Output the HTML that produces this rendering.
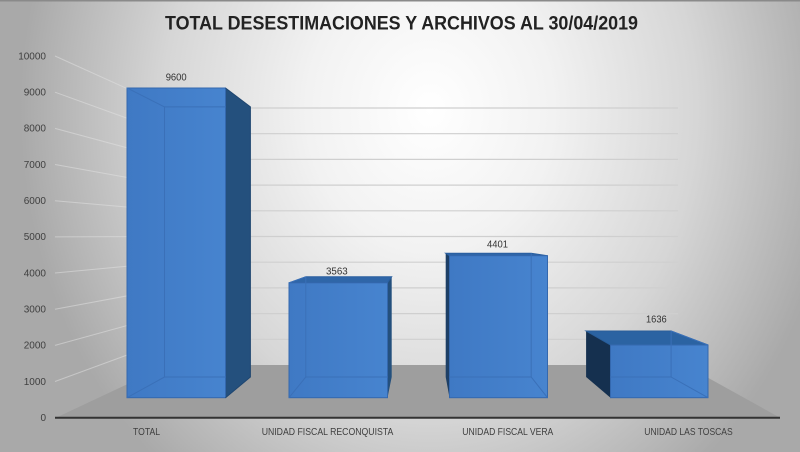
<!DOCTYPE html>
<html>
<head>
<meta charset="utf-8">
<style>
html,body{margin:0;padding:0;width:800px;height:452px;overflow:hidden;background:#c8c8c8;}
svg{display:block;}
text{font-family:"Liberation Sans",Arial,sans-serif;}
</style>
</head>
<body>
<svg width="800" height="452" viewBox="0 0 800 452" xmlns="http://www.w3.org/2000/svg">
<defs>
<radialGradient id="bg" gradientUnits="userSpaceOnUse" cx="0" cy="0" r="1" gradientTransform="translate(430,110) scale(410,470)">
<stop offset="0" stop-color="#ffffff"/>
<stop offset="0.3" stop-color="#f2f2f2"/>
<stop offset="0.65" stop-color="#d6d6d6"/>
<stop offset="1" stop-color="#a9a9a9"/>
</radialGradient>
<linearGradient id="front" x1="0" y1="0" x2="1" y2="0">
<stop offset="0" stop-color="#3f79c4"/>
<stop offset="1" stop-color="#4784cf"/>
</linearGradient>
</defs>
<rect x="0" y="0" width="800" height="452" fill="url(#bg)"/>
<rect x="0" y="0" width="800" height="1.5" fill="#8a8a8a"/>

<!-- back wall gridlines -->
<g stroke="#cfcfcf" stroke-width="1.2">
<line x1="170" y1="339.3" x2="678" y2="339.3"/>
<line x1="170" y1="313.6" x2="678" y2="313.6"/>
<line x1="170" y1="287.9" x2="678" y2="287.9"/>
<line x1="170" y1="262.2" x2="678" y2="262.2"/>
<line x1="170" y1="236.5" x2="678" y2="236.5"/>
<line x1="170" y1="210.8" x2="678" y2="210.8"/>
<line x1="170" y1="185.1" x2="678" y2="185.1"/>
<line x1="170" y1="159.4" x2="678" y2="159.4"/>
<line x1="170" y1="133.7" x2="678" y2="133.7"/>
<line x1="170" y1="108.0" x2="678" y2="108.0"/>
</g>
<!-- side wall gridlines -->
<g stroke="#e4e4e4" stroke-width="1" opacity="0.5">
<line x1="55" y1="381.5" x2="170" y2="339.3"/>
<line x1="55" y1="345.4" x2="170" y2="313.6"/>
<line x1="55" y1="309.2" x2="170" y2="287.9"/>
<line x1="55" y1="273.0" x2="170" y2="262.2"/>
<line x1="55" y1="236.9" x2="170" y2="236.5"/>
<line x1="55" y1="200.7" x2="170" y2="210.8"/>
<line x1="55" y1="164.5" x2="170" y2="185.1"/>
<line x1="55" y1="128.4" x2="170" y2="159.4"/>
<line x1="55" y1="92.2" x2="170" y2="133.7"/>
<line x1="55" y1="56.0" x2="170" y2="108.0"/>
</g>

<!-- floor -->
<polygon points="56,417.7 780,417.7 685,365 168,365" fill="#9e9e9e"/>
<line x1="55" y1="417.7" x2="780" y2="417.7" stroke="#333" stroke-width="2"/>

<!-- Bar 1 TOTAL -->
<g>
<polygon points="225.5,88 250.4,106.9 250.4,377 225.5,397.7" fill="#24507d"/>
<rect x="127" y="88" width="98.5" height="309.7" fill="url(#front)" stroke="#3468ae" stroke-width="1"/>
<g stroke="#3a70b8" stroke-width="1" fill="none">
<polyline points="164.5,377 164.5,106.9 225.5,106.9"/>
<line x1="127" y1="88" x2="164.5" y2="106.9"/>
<line x1="127" y1="397.7" x2="164.5" y2="377"/>
<line x1="164.5" y1="377" x2="225.5" y2="377"/>
</g>
<polyline points="225.5,88 250.4,106.9 250.4,377 225.5,397.7" fill="none" stroke="#1f4670" stroke-width="1"/>
</g>

<!-- Bar 2 RECONQUISTA -->
<g>
<polygon points="387.5,282.8 391.7,276.8 391.7,377 387.5,397.7" fill="#24507d"/>
<polygon points="289,282.8 387.5,282.8 391.7,276.8 305.8,276.8" fill="#2f66a8" stroke="#2a5f9f" stroke-width="1"/>
<rect x="289" y="282.8" width="98.5" height="114.9" fill="url(#front)" stroke="#3468ae" stroke-width="1"/>
<g stroke="#3a70b8" stroke-width="1" fill="none">
<polyline points="305.8,276.8 305.8,377 387.5,377"/>
<line x1="289" y1="282.8" x2="305.8" y2="276.8"/>
<line x1="289" y1="397.7" x2="305.8" y2="377"/>
</g>
</g>

<!-- Bar 3 VERA -->
<g>
<polygon points="445.7,253.2 449.5,255.7 449.5,397.7 445.7,377" fill="#1d3f66"/>
<polygon points="449.5,255.7 547.5,255.7 531.2,253.2 445.7,253.2" fill="#2f66a8" stroke="#2a5f9f" stroke-width="1"/>
<rect x="449.5" y="255.7" width="98" height="142" fill="url(#front)" stroke="#3468ae" stroke-width="1"/>
<g stroke="#3a70b8" stroke-width="1" fill="none">
<polyline points="531.2,253.2 531.2,377 449.5,377"/>
<line x1="547.5" y1="397.7" x2="531.2" y2="377"/>
</g>
</g>

<!-- Bar 4 LAS TOSCAS -->
<g>
<polygon points="586.1,331 610.5,345 610.5,397.7 586.1,377" fill="#15304f"/>
<polygon points="610.5,345 708,345 671.1,331 586.1,331" fill="#2b63a2" stroke="#285d99" stroke-width="1"/>
<rect x="610.5" y="345" width="97.5" height="52.7" fill="url(#front)" stroke="#3468ae" stroke-width="1"/>
<g stroke="#3a70b8" stroke-width="1" fill="none">
<polyline points="671.1,331 671.1,377 610.5,377"/>
<line x1="708" y1="345" x2="671.1" y2="331"/>
<line x1="708" y1="397.7" x2="671.1" y2="377"/>
</g>
</g>

<!-- Title -->
<text x="401.5" y="29.5" text-anchor="middle" font-size="19" font-weight="bold" fill="#222" textLength="473" lengthAdjust="spacingAndGlyphs">TOTAL DESESTIMACIONES Y ARCHIVOS AL 30/04/2019</text>

<!-- Y axis labels -->
<g font-size="10" fill="#404040" text-anchor="end">
<text x="46" y="59.3">10000</text>
<text x="46" y="95.5">9000</text>
<text x="46" y="131.7">8000</text>
<text x="46" y="167.8">7000</text>
<text x="46" y="204.0">6000</text>
<text x="46" y="240.2">5000</text>
<text x="46" y="276.3">4000</text>
<text x="46" y="312.5">3000</text>
<text x="46" y="348.7">2000</text>
<text x="46" y="384.8">1000</text>
<text x="46" y="421.0">0</text>
</g>

<!-- Data labels -->
<g font-size="10" fill="#333">
<text x="165.7" y="80.5" textLength="21" lengthAdjust="spacingAndGlyphs">9600</text>
<text x="326" y="274.5" textLength="21.7" lengthAdjust="spacingAndGlyphs">3563</text>
<text x="487" y="247.7" textLength="21" lengthAdjust="spacingAndGlyphs">4401</text>
<text x="646" y="322.7" textLength="20.7" lengthAdjust="spacingAndGlyphs">1636</text>
</g>

<!-- Category labels -->
<g font-size="10" fill="#404040">
<text x="133" y="435" textLength="27" lengthAdjust="spacingAndGlyphs">TOTAL</text>
<text x="261.7" y="435" textLength="131.6" lengthAdjust="spacingAndGlyphs">UNIDAD FISCAL RECONQUISTA</text>
<text x="462.3" y="435" textLength="91" lengthAdjust="spacingAndGlyphs">UNIDAD FISCAL VERA</text>
<text x="644.3" y="435" textLength="88.4" lengthAdjust="spacingAndGlyphs">UNIDAD LAS TOSCAS</text>
</g>
</svg>
</body>
</html>
